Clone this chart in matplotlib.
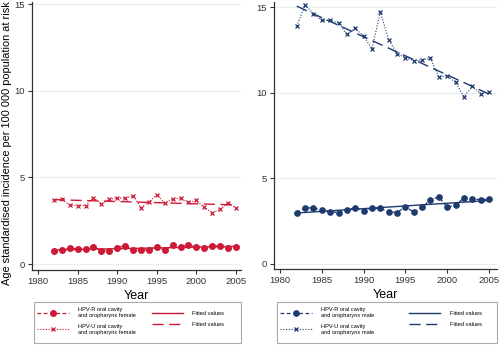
import numpy as np
import matplotlib
matplotlib.use("Agg")
import matplotlib.pyplot as plt
from matplotlib.patches import Rectangle

plt.rcParams["font.family"] = ["Liberation Sans", "DejaVu Sans"]

years = np.arange(1982, 2006)

female_r = [0.73, 0.79, 0.93, 0.87, 0.85, 1.00, 0.77, 0.77, 0.95, 1.06, 0.79, 0.81,
            0.83, 1.00, 0.79, 1.08, 0.98, 1.12, 0.97, 0.95, 1.06, 1.04, 0.91, 1.00]
female_u = [3.71, 3.73, 3.42, 3.38, 3.38, 3.84, 3.46, 3.73, 3.82, 3.80, 3.94, 3.26,
            3.59, 4.00, 3.53, 3.76, 3.80, 3.57, 3.67, 3.28, 2.95, 3.15, 3.55, 3.22]
male_r = [3.00, 3.29, 3.26, 3.14, 3.06, 3.00, 3.16, 3.29, 3.12, 3.24, 3.24, 3.06,
          3.00, 3.35, 3.02, 3.31, 3.76, 3.91, 3.31, 3.43, 3.86, 3.82, 3.74, 3.78]
male_u = [13.89, 15.12, 14.61, 14.22, 14.22, 14.07, 13.40, 13.75, 13.30, 12.57, 14.70, 13.10,
          12.28, 12.04, 11.87, 11.90, 12.02, 10.91, 10.99, 10.60, 9.77, 10.37, 9.94, 10.04]

xticks = [1980, 1985, 1990, 1995, 2000, 2005]
yticks = [0, 5, 10, 15]

RED = "#cc1a36"
NAVY = "#1e3a6e"

W, H = 500, 345
fig = plt.figure(figsize=(5, 3.45), dpi=100)


def fitted(y):
    b, a = np.polyfit(years, y, 1)
    return a + b * years


def panel(rect, xlim, ylim, r, u, color, sex, box, colspace, ms):
    ax = fig.add_axes(rect)
    l1, = ax.plot(years, r, linestyle=(0, (3, 2)), lw=0.9, marker="o", ms=ms,
                  color=color, label=f"HPV-R oral cavity\nand oropharynx {sex}")
    l2, = ax.plot(years, u, linestyle=(0, (1, 1.5)), lw=0.8, marker="x", ms=3.2,
                  mew=0.9, color=color, label=f"HPV-U oral cavity\nand oropharynx {sex}")
    l3, = ax.plot(years, fitted(r), "-", lw=1.0, color=color, label="Fitted values")
    l4, = ax.plot(years, fitted(u), linestyle=(0, (8, 4)), lw=1.0, color=color,
                  label="Fitted values")
    ax.set_xlim(*xlim)
    ax.set_ylim(*ylim)
    ax.set_xticks(xticks)
    ax.set_yticks(yticks)
    for yv in yticks:
        ax.axhline(yv, color="#e6f0f1", lw=0.8, zorder=0)
    for s in ["top", "right"]:
        ax.spines[s].set_visible(False)
    for s in ["left", "bottom"]:
        ax.spines[s].set_linewidth(0.9)
        ax.spines[s].set_color("#333333")
    ax.tick_params(labelsize=6.8, length=3, width=0.8, colors="#333333", pad=2)
    ax.set_xlabel("Year", fontsize=9, labelpad=3)

    # legend frame (box in pixels: x0, y0_top, x1, y1_bottom)
    x0, y0, x1, y1 = box
    fig.add_artist(Rectangle((x0 / W, 1 - y1 / H), (x1 - x0) / W, (y1 - y0) / H,
                             transform=fig.transFigure, fill=False,
                             edgecolor="#aaaaaa", lw=0.8))
    fig.legend(handles=[l1, l2, l3, l4], ncol=2, loc="upper left",
               bbox_to_anchor=((x0 + 1) / W, 1 - (y0 + 3) / H), borderaxespad=0,
               fontsize=4.1, frameon=False,
               handlelength=5.5, handletextpad=1.6, labelspacing=1.05,
               columnspacing=colspace, borderpad=0.4)
    return ax


ax1 = panel([0.064, 0.217, 0.418, 0.777], (1979.24, 2005.63), (-0.35, 15.12),
            female_r, female_u, RED, "female", (34, 302, 241, 343), 2.8, 4.0)
ax1.set_ylabel("Age standardised incidence per 100 000 population at risk",
               fontsize=7.9)
ax1.yaxis.set_label_coords(-0.098, 0.475)
ax2 = panel([0.548, 0.22, 0.446, 0.774], (1979.28, 2005.96), (-0.3, 15.29),
            male_r, male_u, NAVY, "male", (277, 302, 497, 343), 6.2, 3.8)

fig.savefig("out.png", dpi=100)
